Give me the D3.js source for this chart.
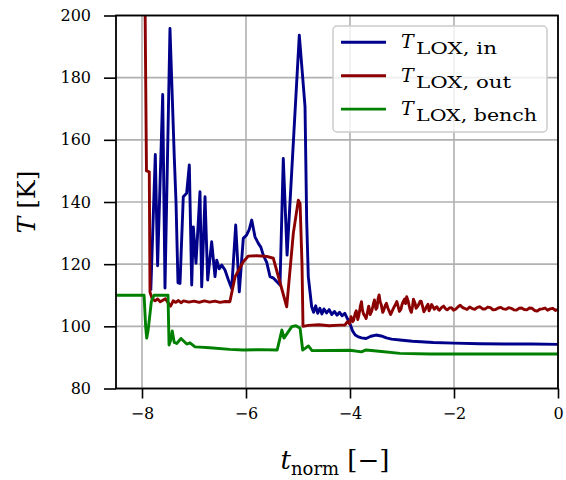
<!DOCTYPE html>
<html>
<head>
<meta charset="utf-8">
<script src="https://cdn.jsdelivr.net/npm/d3@7"></script>
<style>
  body { margin: 0; background: #fff; }
  svg { display: block; font-family: 'DejaVu Serif', serif; }
</style>
</head>
<body>
<div id="chart"></div>
<script>
// T_LOX,in  (time, K)
const inT = [-7.83, -7.744, -7.70, -7.602, -7.558, -7.462, -7.379, -7.346, -7.308, -7.269,
  -7.206, -7.142, -7.090, -7.044, -7.013, -6.962, -6.885, -6.852, -6.788, -6.737,
  -6.660, -6.596, -6.563, -6.515, -6.467, -6.404, -6.340, -6.275, -6.198, -6.129,
  -6.052, -5.987, -5.94, -5.890, -5.827, -5.763, -5.715, -5.667, -5.600, -5.538,
  -5.470, -5.410, -5.346, -5.283, -5.210, -4.975, -4.865, -4.833, -4.802, -4.737,
  -4.70, -4.66, -4.62, -4.58, -4.54, -4.50, -4.45, -4.40, -4.35, -4.30,
  -4.25, -4.20, -4.15, -4.10, -4.05, -4.00, -3.95, -3.90, -3.85, -3.78,
  -3.69, -3.60, -3.50, -3.40, -3.30, -3.20, -3.04, -2.80, -2.40, -2.00,
  -1.50, -1.00, -0.50, 0]
const inV = [112, 155.3, 119.5, 174.6, 112.3, 195.8, 154.3, 140, 114, 113.8,
  141.7, 142.8, 151.9, 113.3, 132, 120.3, 143.3, 112.7, 141.7, 114.9,
  127.2, 116, 121.3, 118.5, 119.7, 118.1, 115, 112.2, 132.6, 111.1,
  128.3, 129.4, 131, 134.2, 128.8, 126.7, 125.5, 122.9, 120.5, 116,
  115.5, 114.4, 113.3, 154, 122.9, 193.7, 170.7, 134, 116, 106.3,
  104.5, 106.6, 104.2, 105.8, 104.0, 105.6, 104.3, 105.4, 103.8, 104.8,
  103.6, 104.5, 103.4, 104.2, 102.5, 100.8, 98.5, 97.2, 96.7, 96.3,
  96.1, 96.8, 97.2, 96.9, 96.3, 95.9, 95.6, 95.2, 94.8, 94.6,
  94.4, 94.3, 94.3, 94.2]

// T_LOX,out
const outT = [-7.97, -7.914, -7.86, -7.846, -7.808, -7.75, -7.70, -7.65, -7.60, -7.55,
  -7.50, -7.45, -7.40, -7.35, -7.30, -7.25, -7.20, -7.10, -7.00, -6.90,
  -6.80, -6.70, -6.60, -6.50, -6.40, -6.31, -6.21, -6.052, -5.956, -5.80,
  -5.60, -5.475, -5.217, -5.090, -4.994, -4.960, -4.923, -4.904, -4.80, -4.60,
  -4.40, -4.20, -4.10, -4.05, -4.01, -3.98, -3.95, -3.93, -3.90, -3.88,
  -3.85, -3.83, -3.80, -3.78, -3.76, -3.74, -3.71, -3.69, -3.66, -3.64,
  -3.61, -3.58, -3.55, -3.53, -3.50, -3.48, -3.46, -3.44, -3.42, -3.40,
  -3.37, -3.35, -3.32, -3.30, -3.27, -3.25, -3.22, -3.20, -3.17, -3.15,
  -3.12, -3.10, -3.07, -3.05, -3.02, -3.00, -2.97, -2.95, -2.93, -2.91,
  -2.88, -2.86, -2.84, -2.82, -2.80, -2.78, -2.75, -2.73, -2.70, -2.68,
  -2.65, -2.63, -2.60, -2.58, -2.55, -2.53, -2.50, -2.48, -2.45, -2.43,
  -2.40, -2.38, -2.35, -2.33, -2.30, -2.28, -2.24, -2.20, -2.16, -2.13,
  -2.09, -2.05, -2.01, -1.97, -1.92, -1.88, -1.84, -1.80, -1.75, -1.70,
  -1.65, -1.60, -1.55, -1.50, -1.45, -1.40, -1.35, -1.30, -1.25, -1.20,
  -1.15, -1.10, -1.05, -1.00, -0.95, -0.90, -0.85, -0.80, -0.75, -0.70,
  -0.65, -0.60, -0.55, -0.50, -0.45, -0.40, -0.35, -0.30, -0.25, -0.20,
  -0.15, -0.10, -0.05, 0]
const outV = [260, 150, 149.7, 111, 109, 108.2, 108.8, 107.9, 108.4, 108.9,
  107.6, 106.5, 108.2, 107.7, 108.3, 107.6, 108.2, 107.8, 108.1, 107.7,
  108.2, 107.8, 108.1, 107.7, 108.0, 107.9, 116, 120.8, 122.6, 122.7,
  122.5, 121.9, 106.3, 129.9, 140.6, 139.5, 120, 100, 100.3, 100.5,
  100.2, 100.4, 100.4, 101.5, 100.8, 103.1, 101.5, 102, 104.2, 105,
  102.2, 103.5, 106.5, 107.9, 105.2, 104, 103.2, 102.5, 104.8, 106.5,
  103.8, 105, 107.2, 108.5, 105.5, 106, 108.8, 110.1, 107.9, 107,
  104.5, 105.2, 106.8, 107.4, 105.8, 105, 103.8, 104.5, 105.6, 106.3,
  107.2, 108, 106.1, 104.8, 105.5, 107, 108.2, 108.8, 107.3, 109.5,
  108, 106.5, 105.2, 104.5, 106.2, 108.7, 107.5, 105.8, 106.4, 107,
  108.1, 108, 106.2, 104.7, 105.5, 106.3, 107.1, 105, 106, 107,
  106.2, 105.5, 106.1, 106.3, 105.4, 105.2, 106, 106.5, 105.6, 105.3,
  105.9, 106, 105.2, 105.5, 106.3, 106.8, 106.1, 105.8, 105.4, 106.2,
  105.7, 105.5, 106.1, 106.3, 105.6, 105.6, 106.2, 106, 105.3, 105.4,
  105.9, 106.1, 105.6, 105.5, 106, 105.8, 105.3, 105.2, 105.8, 105.9,
  105.4, 105.3, 105.9, 105.8, 105.1, 104.9, 105.5, 105.6, 105.9, 105.2,
  105.6, 105.8, 105.1, 105.4]

// T_LOX,bench
const benchT = [-8.5, -7.96, -7.93, -7.91, -7.88, -7.82, -7.77, -7.50, -7.48, -7.45,
  -7.418, -7.38, -7.333, -7.25, -7.14, -7.077, -6.98, -6.885, -6.70, -6.31,
  -6.06, -5.73, -5.40, -5.31, -5.27, -5.12, -5.04, -4.96, -4.91, -4.855,
  -4.80, -4.73, -4.00, -3.78, -3.69, -3.44, -3.04, -2.46, 0]
const benchV = [110, 110, 100, 96.2, 99, 108, 110, 110, 94, 95.5,
  98.5, 94.8, 94.5, 96.1, 94.3, 94.7, 93.4, 93.3, 93.1, 92.6,
  92.4, 92.5, 92.4, 98.8, 96.2, 99.9, 100.2, 99.4, 92.4, 93,
  93.7, 92.2, 92.3, 91.8, 92.4, 92, 91.3, 91.1, 91.1]

const seriesNames = ['in', 'out', 'bench']
const seriesColors = ['#00008b', '#8b0000', '#008000']
const legendSubWidths = [81, 95, 121]
const xTicks = [-8, -6, -4, -2, 0]
const yTicks = [80, 100, 120, 140, 160, 180, 200]

const width = 566
const height = 480
const margin = { top: 15.5, right: 8, bottom: 91.5, left: 116 }

const svg = d3.select('#chart').append('svg')
  .attr('width', width)
  .attr('height', height)

const x = d3.scaleLinear().domain([-8.5, 0]).range([margin.left, width - margin.right])
const y = d3.scaleLinear().domain([80, 200]).range([height - margin.bottom, margin.top])

// grid
svg.append('g')
  .selectAll('line')
  .data(xTicks)
  .join('line')
  .attr('x1', (d) => x(d)).attr('x2', (d) => x(d))
  .attr('y1', y(80)).attr('y2', y(200))
  .attr('stroke', '#b0b0b0').attr('stroke-width', 1.6)
svg.append('g')
  .selectAll('line')
  .data(yTicks)
  .join('line')
  .attr('x1', x(-8.5)).attr('x2', x(0))
  .attr('y1', (d) => y(d)).attr('y2', (d) => y(d))
  .attr('stroke', '#b0b0b0').attr('stroke-width', 1.6)

svg.append('defs').append('clipPath').attr('id', 'clip')
  .append('rect')
  .attr('x', x(-8.5)).attr('y', y(200))
  .attr('width', x(0) - x(-8.5)).attr('height', y(80) - y(200))

const line = d3.line().x((d) => x(d[0])).y((d) => y(d[1]))
const series = [
  d3.zip(inT, inV),
  d3.zip(outT, outV),
  d3.zip(benchT, benchV)
]

const plot = svg.append('g').attr('clip-path', 'url(#clip)')
series.forEach((pts, i) => {
  plot.append('path')
    .datum(pts)
    .attr('d', line)
    .attr('fill', 'none')
    .attr('stroke', seriesColors[i])
    .attr('stroke-width', 2.9)
    .attr('stroke-linejoin', 'round')
    .attr('stroke-linecap', 'square')
})

// axes
const xAxis = svg.append('g')
  .attr('transform', `translate(0,${y(80)})`)
  .call(d3.axisBottom(x).tickValues(xTicks).tickSize(10).tickPadding(9))
const yAxis = svg.append('g')
  .attr('transform', `translate(${x(-8.5)},0)`)
  .call(d3.axisLeft(y).tickValues(yTicks).tickSize(12).tickPadding(13))

;[xAxis, yAxis].forEach((g) => {
  g.select('.domain').remove()
  g.selectAll('.tick line').attr('stroke', '#000').attr('stroke-width', 1.6)
  g.selectAll('.tick text')
    .attr('fill', '#000')
    .style('font-family', "'DejaVu Serif', serif")
    .style('font-size', '16px')
})

// frame
svg.append('rect')
  .attr('x', x(-8.5)).attr('y', y(200))
  .attr('width', x(0) - x(-8.5)).attr('height', y(80) - y(200))
  .attr('fill', 'none').attr('stroke', '#000').attr('stroke-width', 1.8)

// axis labels
const xl = svg.append('text')
  .attr('x', (x(-8.5) + x(0)) / 2 - 2)
  .attr('y', 469)
  .attr('text-anchor', 'middle')
  .style('font-size', '26px')
xl.append('tspan').attr('font-style', 'italic').text('t')
xl.append('tspan').attr('dy', 6).style('font-size', '18px').text('norm')
xl.append('tspan').attr('dy', -6).text(' [−]')

const yl = svg.append('text')
  .attr('transform', `translate(35,${(y(80) + y(200)) / 2}) rotate(-90)`)
  .attr('text-anchor', 'middle')
  .style('font-size', '25px')
yl.append('tspan').attr('font-style', 'italic').text('T')
yl.append('tspan').text(' [K]')

// legend
const legend = svg.append('g')
legend.append('rect')
  .attr('x', 333).attr('y', 26)
  .attr('width', 214).attr('height', 106)
  .attr('rx', 4)
  .attr('fill', 'rgba(255,255,255,0.8)')
  .attr('stroke', '#cccccc').attr('stroke-width', 1.5)

seriesNames.forEach((name, i) => {
  const cy = 42.3 + i * 33.4
  legend.append('line')
    .attr('x1', 341).attr('x2', 386)
    .attr('y1', cy).attr('y2', cy)
    .attr('stroke', seriesColors[i]).attr('stroke-width', 2.9)
  legend.append('text')
    .attr('x', 401)
    .attr('y', cy + 6)
    .attr('font-style', 'italic')
    .style('font-size', '19px')
    .text('T')
  legend.append('text')
    .attr('x', 416)
    .attr('y', cy + 12)
    .attr('textLength', legendSubWidths[i])
    .attr('lengthAdjust', 'spacingAndGlyphs')
    .style('font-size', '16px')
    .text('LOX, ' + name)
})
</script>
</body>
</html>
